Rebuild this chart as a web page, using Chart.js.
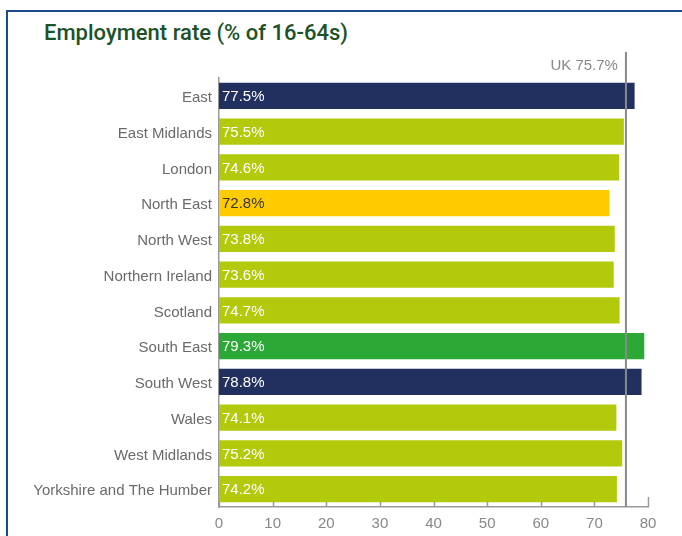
<!DOCTYPE html>
<html>
<head>
<meta charset="utf-8">
<script src="https://cdn.jsdelivr.net/npm/chart.js@4"></script>
<style>
  body { margin: 0; background: #fff; }
  #marco {
    position: absolute; left: 6px; top: 10px; width: 680px; height: 530px;
    border-top: 2px solid #1f4a8a; border-left: 2px solid #1f4a8a;
  }
  #titulo {
    position: absolute; left: 44px; top: 20px; margin: 0;
    font-family: Roboto, "Liberation Sans", Arial, sans-serif; font-size: 22px; font-weight: 500;
    color: #1d5228;
  }
  #lienzo { position: absolute; left: 0; top: 0; }
</style>
</head>
<body>
<div id="marco"></div>
<h1 id="titulo">Employment rate (% of 16-64s)</h1>
<canvas id="lienzo" width="682" height="536"></canvas>
<script>
// =============================================
// DATOS
// =============================================

const regiones = [
  "East", "East Midlands", "London", "North East", "North West", "Northern Ireland",
  "Scotland", "South East", "South West", "Wales", "West Midlands", "Yorkshire and The Humber"
];
const tasaEmpleo = [77.5, 75.5, 74.6, 72.8, 73.8, 73.6, 74.7, 79.3, 78.8, 74.1, 75.2, 74.2];
const mediaUK = 75.7;
const etiquetaUK = "UK 75.7%";
const ticksEje = [0, 10, 20, 30, 40, 50, 60, 70, 80];

// colores de cada barra
const coloresBarras = [
  "#22305f", "#b2c90c", "#b2c90c", "#ffcc00", "#b2c90c", "#b2c90c",
  "#b2c90c", "#2ba836", "#22305f", "#b2c90c", "#b2c90c", "#b2c90c"
];
const coloresTexto = regiones.map((r, i) => (coloresBarras[i] === "#ffcc00" ? "#333333" : "#ffffff"));

const FUENTE = '"Liberation Sans", Arial, sans-serif';

// =============================================
// PLUGIN: etiquetas, línea UK y marcas del eje
// =============================================

const pluginExtras = {
  id: "extras",
  afterDatasetsDraw(chart) {
    const ctx = chart.ctx;
    const x = chart.scales.x;
    const area = chart.chartArea;
    const meta = chart.getDatasetMeta(0);

    // etiquetas de valor dentro de las barras
    ctx.save();
    ctx.font = "15px " + FUENTE;
    ctx.textBaseline = "middle";
    ctx.textAlign = "left";
    meta.data.forEach((barra, i) => {
      ctx.fillStyle = coloresTexto[i];
      ctx.fillText(tasaEmpleo[i].toFixed(1) + "%", x.getPixelForValue(0) + 3, barra.y + 1);
    });

    // marcas del eje x (hacia arriba)
    ctx.strokeStyle = "#999999";
    ctx.lineWidth = 1.5;
    ticksEje.forEach((t) => {
      const px = Math.round(x.getPixelForValue(t)) + 0.5;
      const largo = t === ticksEje[ticksEje.length - 1] ? 10 : 5;
      ctx.beginPath();
      ctx.moveTo(px, area.bottom);
      ctx.lineTo(px, area.bottom - largo);
      ctx.stroke();
    });

    // línea de referencia UK
    const ux = x.getPixelForValue(mediaUK) + 1;
    ctx.strokeStyle = "#8a8a8a";
    ctx.lineWidth = 2;
    ctx.beginPath();
    ctx.moveTo(ux, 52);
    ctx.lineTo(ux, area.bottom);
    ctx.stroke();

    ctx.fillStyle = "#888888";
    ctx.textAlign = "right";
    ctx.fillText(etiquetaUK, ux - 8, 66);
    ctx.restore();
  }
};

// =============================================
// GRÁFICA
// =============================================

new Chart(document.getElementById("lienzo").getContext("2d"), {
  type: "bar",
  data: {
    labels: regiones,
    datasets: [{
      data: tasaEmpleo,
      backgroundColor: coloresBarras,
      borderWidth: 0,
      barPercentage: 0.73,
      categoryPercentage: 1
    }]
  },
  options: {
    indexAxis: "y",
    responsive: false,
    animation: false,
    layout: { padding: { top: 78, right: 34, bottom: 0, left: 0 } },
    plugins: { legend: { display: false }, tooltip: { enabled: false } },
    scales: {
      x: {
        min: 0,
        max: 80,
        afterBuildTicks(scale) { scale.ticks = ticksEje.map((v) => ({ value: v })); },
        afterFit(scale) { scale.height = 29; },
        grid: { display: false, drawTicks: false },
        border: { display: true, color: "#999999", width: 1.5 },
        ticks: { color: "#888888", font: { family: FUENTE, size: 15 }, padding: 8 }
      },
      y: {
        afterFit(scale) { scale.width = 219; },
        grid: { display: false, drawTicks: false },
        border: { display: true, color: "#999999", width: 1.5 },
        ticks: { color: "#6a6a6a", font: { family: FUENTE, size: 15 }, padding: 7, labelOffset: 2 }
      }
    }
  },
  plugins: [pluginExtras]
});
</script>
</body>
</html>
